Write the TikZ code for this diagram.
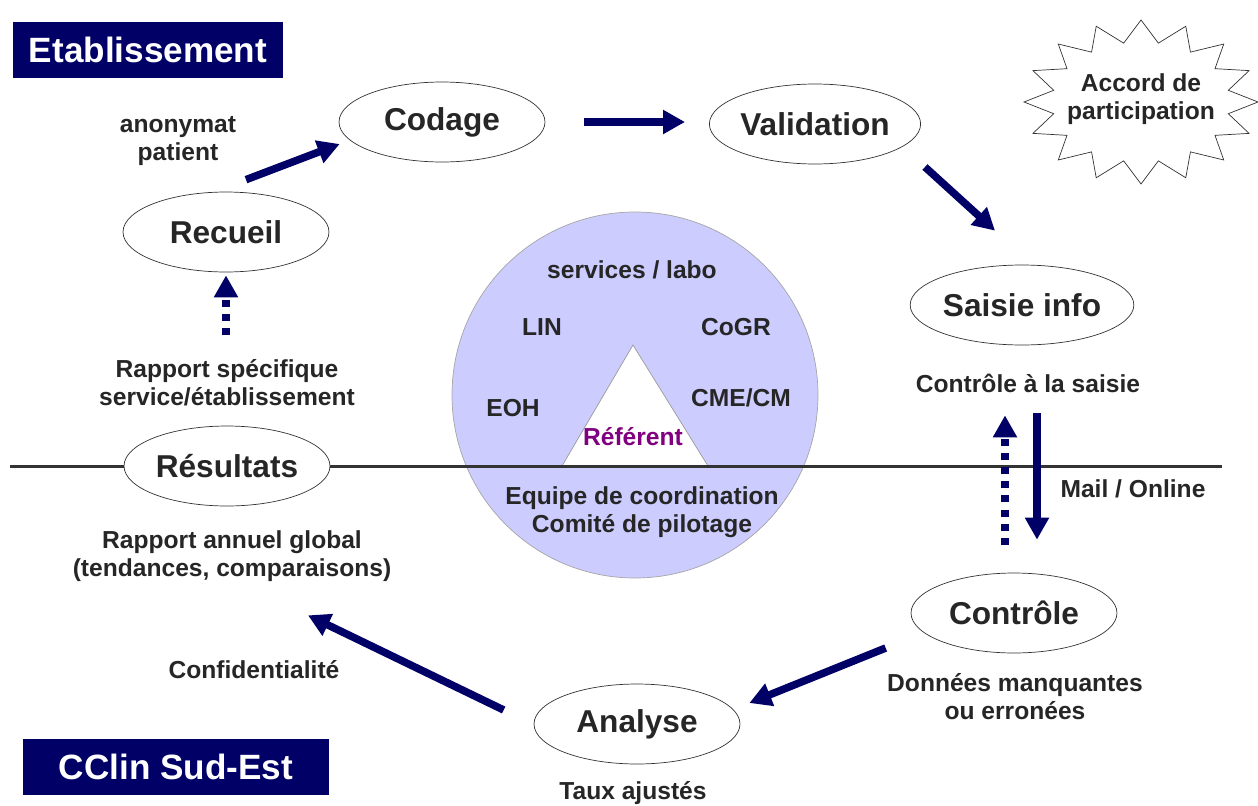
\documentclass[tikz,border=0pt]{standalone}
\usepackage{fontspec}
\setmainfont{Liberation Sans}
\usetikzlibrary{arrows.meta,calc,shapes.geometric}
\definecolor{navy}{RGB}{0,0,102}
\definecolor{lavender}{RGB}{204,204,255}
\definecolor{txt}{RGB}{38,38,38}
\definecolor{referent}{RGB}{128,0,128}

\begin{document}
\begin{tikzpicture}[x=0.02cm, y=-0.02cm,
  every node/.style={font=\bfseries\fontsize{14}{16}\selectfont, text=txt, align=center},
  stage/.style={ellipse, draw=black!80, thin, fill=white, minimum width=4.12cm,
    minimum height=1.6cm, inner sep=0pt, font=\bfseries\fontsize{18}{20}\selectfont},
  headbox/.style={fill=navy, text=white, minimum height=1.12cm, inner sep=0pt,
    font=\bfseries\fontsize{20}{22}\selectfont},
  flow/.style={navy, line width=4.3pt, -{Triangle[length=12.5pt,width=13pt]}},
  dotflow/.style={flow, dash pattern=on 4pt off 4pt}]
  \useasboundingbox (0,0) rectangle (1258,805);

  % central disc with the triangle
  \draw[gray!70, fill=lavender] (635,395) circle (183);
  \draw[gray!80, fill=white] (633,345) -- (562,466) -- (708,466) -- cycle;

  % separating line
  \draw[black!80, line width=1.7pt] (10,466) -- (1222,466);

  % headings
  \node[headbox, minimum width=5.4cm] (etab) at (148,50) {Etablissement};
  \node[headbox, minimum width=6.12cm] (cclin) at (176,767) {CClin Sud-Est};

  % stages
  \node[stage] (recueil) at (226,232) {Recueil};
  \node[stage] (codage) at (442,122) {Codage};
  \node[stage] (validation) at (815,124) {Validation};
  \node[stage] (saisie) at (1022,305) {Saisie info};
  \node[stage] (controle) at (1014,613) {Contr\^ole};
  \node[stage] (analyse) at (637,724) {Analyse};
  \node[stage] (resultats) at (227,466) {R\'esultats};

  % agreement star, 16 points
  \draw[black!80, fill=white, line join=miter]
    plot[samples=32, domain=0:31, variable=\k]
    ({1141+ifthenelse(mod(round(\k),2)==0,117,89)*cos(\k*11.25)},
     {102-ifthenelse(mod(round(\k),2)==0,82,60)*sin(\k*11.25)}) -- cycle;
  \node (accord) at (1141,99) {Accord de\\participation};

  % disc labels
  \node (services) at (632,270) {services / labo};
  \node (lin) at (542,327) {LIN};
  \node (cogr) at (736,327) {CoGR};
  \node (eoh) at (513,408) {EOH};
  \node (cme) at (741,398) {CME/CM};
  \node[text=referent] (referent) at (633,437) {R\'ef\'erent};
  \node (equipe) at (642,512) {Equipe de coordination\\Comit\'e de pilotage};

  % side notes
  \node (anonymat) at (178,141) {anonymat\\patient};
  \node (specifique) at (227,383) {Rapport sp\'ecifique\\service/\'etablissement};
  \node (annuel) at (232,556) {Rapport annuel global\\(tendances, comparaisons)};
  \node (confid) at (254,670) {Confidentialit\'e};
  \node (saisienote) at (1028,383) {Contr\^ole \`a la saisie};
  \node (mail) at (1133,489) {Mail / Online};
  \node (donnees) at (1015,697) {Donn\'ees manquantes\\ou erron\'ees};
  \node (taux) at (633,793) {Taux ajust\'es};

  % flows
  \draw[flow] ($(recueil.north)+(20,-12)$) -- ($(codage.west)+(1,22)$);
  \draw[flow] ($(codage.east)+(39,0)$) -- ($(validation.west)+(-24,-2)$);
  \draw[flow] ($(validation.east)+(4,43)$) -- ($(saisie.north)+(-27,-34)$);
  \draw[flow] ($(saisie.south)+(15,68)$) -- ($(controle.north)+(23,-33)$);
  \draw[dotflow] ($(controle.north)+(-9,-28)$) -- ($(saisie.south)+(-17,70)$);
  \draw[flow] ($(controle.west)+(-25,35)$) -- ($(analyse.east)+(9,-21)$);
  \draw[flow] ($(analyse.west)+(-30,-14)$) -- ($(resultats.south)+(81,109)$);
  \draw[dotflow] ($(recueil.south)+(0,63)$) -- ($(recueil.south)+(0,3)$);
\end{tikzpicture}
\end{document}
